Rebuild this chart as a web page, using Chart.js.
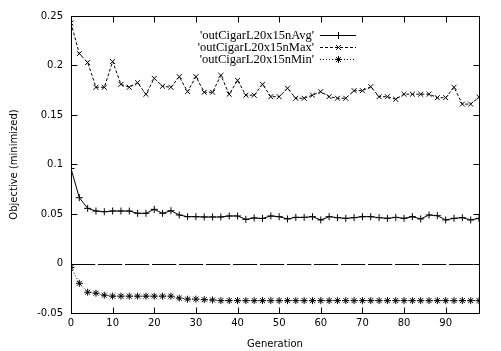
<!DOCTYPE html>
<html>
<head>
<meta charset="utf-8">
<script src="https://cdn.jsdelivr.net/npm/chart.js@4.4.1/dist/chart.umd.min.js"></script>
<style>
  html, body { margin: 0; padding: 0; background: #fff; }
  #wrap { width: 501px; height: 351px; }
</style>
</head>
<body>
<div id="wrap"><canvas id="chart" width="501" height="351"></canvas></div>
<script>
// generations sampled every 2 steps
const generations = [0, 2, 4, 6, 8, 10, 12, 14, 16, 18, 20, 22, 24, 26, 28, 30, 32, 34, 36, 38,
  40, 42, 44, 46, 48, 50, 52, 54, 56, 58, 60, 62, 64, 66, 68, 70, 72, 74, 76, 78,
  80, 82, 84, 86, 88, 90, 92, 94, 96, 98];

const avgValues = [0.096, 0.0665, 0.0557, 0.053, 0.0523, 0.053, 0.053, 0.053, 0.0507, 0.0507,
  0.0547, 0.0507, 0.0533, 0.049, 0.0473, 0.0473, 0.047, 0.047, 0.047, 0.048,
  0.048, 0.0446, 0.046, 0.0455, 0.048, 0.0473, 0.045, 0.0466, 0.0466, 0.0473,
  0.044, 0.0473, 0.0463, 0.0456, 0.0463, 0.0473, 0.0473, 0.0463, 0.0456, 0.0466,
  0.0456, 0.0473, 0.045, 0.049, 0.0483, 0.044, 0.0456, 0.0463, 0.044, 0.0456];

const maxValues = [0.243, 0.212, 0.203, 0.178, 0.178, 0.204, 0.181, 0.178, 0.1826, 0.171,
  0.187, 0.179, 0.178, 0.1887, 0.1736, 0.1887, 0.173, 0.173, 0.19, 0.171,
  0.185, 0.17, 0.17, 0.181, 0.1685, 0.1685, 0.177, 0.1669, 0.1669, 0.17,
  0.1736, 0.1685, 0.1669, 0.1669, 0.1746, 0.1746, 0.1786, 0.1685, 0.1685, 0.1659,
  0.171, 0.171, 0.171, 0.171, 0.1675, 0.1675, 0.178, 0.161, 0.161, 0.168];

const minValues = [-0.004, -0.02, -0.029, -0.030, -0.032, -0.033, -0.033, -0.033, -0.033, -0.033,
  -0.033, -0.033, -0.033, -0.035, -0.036, -0.036, -0.0365, -0.0368, -0.0375, -0.0375,
  -0.0375, -0.0375, -0.0375, -0.0375, -0.0375, -0.0375, -0.0375, -0.0375, -0.0375, -0.0375,
  -0.0375, -0.0375, -0.0375, -0.0375, -0.0375, -0.0375, -0.0375, -0.0375, -0.0375, -0.0375,
  -0.0375, -0.0375, -0.0375, -0.0375, -0.0375, -0.0375, -0.0375, -0.0375, -0.0375, -0.0375];

const seriesNames = ["'outCigarL20x15nAvg'", "'outCigarL20x15nMax'", "'outCigarL20x15nMin'"];
const yTicks = [-0.05, 0, 0.05, 0.1, 0.15, 0.2, 0.25];
const xTicks = [0, 10, 20, 30, 40, 50, 60, 70, 80, 90];

const toPoints = vals => vals.map((v, i) => ({ x: generations[i], y: v }));

const tickFont = { family: 'DejaVu Sans', size: 10 };

// gnuplot style frame: border, inward ticks on all sides, zero axis
const framePlugin = {
  id: 'frame',
  beforeDatasetsDraw(chart) {
    const { ctx, chartArea: a, scales: { y } } = chart;
    ctx.save();
    const y0 = Math.round(y.getPixelForValue(0)) + 0.5;
    ctx.lineWidth = 1;
    ctx.strokeStyle = '#d0d0d0';
    ctx.setLineDash([1, 2]);
    ctx.beginPath(); ctx.moveTo(a.left, y0); ctx.lineTo(a.right, y0); ctx.stroke();
    ctx.strokeStyle = '#000';
    ctx.setLineDash([24, 3]);
    ctx.beginPath(); ctx.moveTo(a.left, y0); ctx.lineTo(a.right, y0); ctx.stroke();
    ctx.restore();
  },
  afterDatasetsDraw(chart) {
    const { ctx, chartArea: a, scales: { x, y } } = chart;
    ctx.save();
    ctx.strokeStyle = '#000';
    ctx.lineWidth = 1;
    ctx.setLineDash([]);
    const L = Math.round(a.left) + 0.5, R = Math.round(a.right) + 0.5;
    const T = Math.round(a.top) + 0.5, B = Math.round(a.bottom) + 0.5;
    ctx.strokeRect(L, T, R - L, B - T);
    ctx.beginPath();
    yTicks.forEach(v => {
      const py = Math.round(y.getPixelForValue(v)) + 0.5;
      ctx.moveTo(L, py); ctx.lineTo(L + 6, py);
      ctx.moveTo(R, py); ctx.lineTo(R - 6, py);
    });
    xTicks.forEach(v => {
      const px = Math.round(x.getPixelForValue(v)) + 0.5;
      ctx.moveTo(px, B); ctx.lineTo(px, B - 6);
      ctx.moveTo(px, T); ctx.lineTo(px, T + 6);
    });
    ctx.stroke();
    ctx.restore();
  },
  afterDraw(chart) {
    // key in the top right, text right aligned, sample to its right
    const { ctx } = chart;
    ctx.save();
    ctx.font = '12.5px "Liberation Serif"';
    ctx.textAlign = 'right';
    ctx.textBaseline = 'middle';
    ctx.fillStyle = '#000';
    chart.data.datasets.forEach((ds, i) => {
      const ty = 35 + i * 12;
      ctx.fillText(ds.label, 314, ty + 1);
      ctx.strokeStyle = '#000';
      ctx.lineWidth = 1;
      ctx.setLineDash(ds.borderDash || []);
      ctx.beginPath(); ctx.moveTo(320, ty + 0.5); ctx.lineTo(356, ty + 0.5); ctx.stroke();
      ctx.setLineDash([]);
      Chart.helpers.drawPoint(ctx, { pointStyle: ds.pointStyle, radius: ds.pointRadius, rotation: 0, borderWidth: 1 }, 338.5, ty + 0.5);
    });
    ctx.restore();
  }
};

new Chart(document.getElementById('chart'), {
  type: 'line',
  data: {
    datasets: [
      { label: seriesNames[0], data: toPoints(avgValues), borderColor: '#000', borderWidth: 1,
        pointStyle: 'cross', pointRadius: 3.5, pointBorderColor: '#000', pointBorderWidth: 1 },
      { label: seriesNames[1], data: toPoints(maxValues), borderColor: '#000', borderWidth: 1,
        borderDash: [3, 2], pointStyle: 'crossRot', pointRadius: 3.5, pointBorderColor: '#000', pointBorderWidth: 1 },
      { label: seriesNames[2], data: toPoints(minValues), borderColor: '#000', borderWidth: 1,
        borderDash: [1, 2], pointStyle: 'star', pointRadius: 3.5, pointBorderColor: '#000', pointBorderWidth: 1 }
    ]
  },
  options: {
    responsive: false,
    animation: false,
    layout: { padding: { top: 16, right: 22, left: 0, bottom: 0 } },
    plugins: { legend: { display: false }, tooltip: { enabled: false } },
    elements: { line: { tension: 0, fill: false } },
    scales: {
      x: {
        type: 'linear', min: 0, max: 98,
        grid: { display: false, drawTicks: false },
        border: { display: false },
        ticks: { stepSize: 10, includeBounds: false, padding: 4, color: '#000', font: tickFont, maxRotation: 0 },
        title: { display: true, text: 'Generation', color: '#000', font: tickFont, padding: { top: 0, bottom: 1 } },
        afterFit(scale) { scale.height = 38; }
      },
      y: {
        min: -0.05, max: 0.25,
        grid: { display: false, drawTicks: false },
        border: { display: false },
        ticks: { stepSize: 0.05, padding: 8, color: '#000', font: tickFont,
          callback: v => String(Math.round(v * 100) / 100) },
        title: { display: true, text: 'Objective (minimized)', color: '#000', font: tickFont, padding: { top: 8, bottom: 0 } },
        afterFit(scale) { scale.width = 71; }
      }
    }
  },
  plugins: [framePlugin]
});
</script>
</body>
</html>
